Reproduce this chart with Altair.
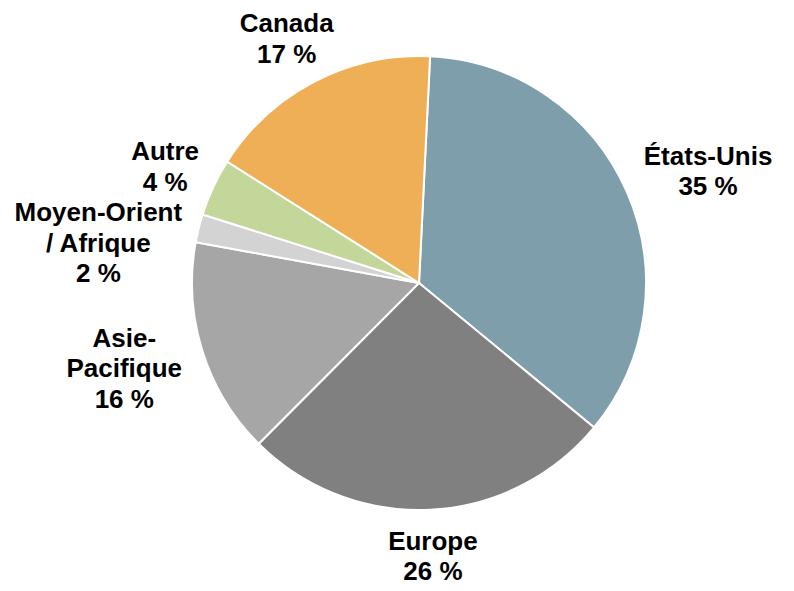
import altair as alt
import pandas as pd
import math

categories = ["États-Unis", "Europe", "Asie-Pacifique", "Moyen-Orient / Afrique", "Autre", "Canada"]
values = [35.2, 26.5, 15.4, 2.0, 4.1, 16.8]
labels = ["États-Unis\n35 %", "Europe\n26 %", "Asie-\nPacifique\n16 %",
          "Moyen-Orient\n/ Afrique\n2 %", "Autre\n4 %", "Canada\n17 %"]
colors = ["#7F9EAB", "#808080", "#A6A6A6", "#D3D3D3", "#C4D79B", "#EFAF57"]

df = pd.DataFrame({
    "cat": categories,
    "value": values,
    "label": labels,
    "idx": list(range(len(categories))),
    "nlines": [len(l.split("\n")) for l in labels],
    "maxchars": [max(len(s) for s in l.split("\n")) for l in labels],
})

FS = 26
LH = 30.5
R = 244
start = 2.8 * math.pi / 180
theta_scale = alt.Scale(range=[start, start + 2 * math.pi])

pie = alt.Chart(df).mark_arc(outerRadius=227, stroke="white", strokeWidth=2).encode(
    theta=alt.Theta("value:Q", stack=True, scale=theta_scale),
    order=alt.Order("idx:Q"),
    color=alt.Color("cat:N", scale=alt.Scale(domain=categories, range=colors), legend=None),
)

text = (
    alt.Chart(df)
    .transform_joinaggregate(total="sum(value)")
    .transform_window(cum="sum(value)", sort=[alt.SortField("idx")], frame=[None, 0])
    .transform_calculate(mid=f"{start} + 2*PI*(datum.cum - datum.value/2)/datum.total")
    .transform_calculate(hw=f"datum.maxchars*7.2", hh=f"datum.nlines*{LH/2}")
    .transform_calculate(
        px=f"({R} + datum.hw)*sin(datum.mid)",
        yd=f"-({R} + datum.hh)*cos(datum.mid)",
        side="sin(datum.mid) < 0 ? 'L' : 'R'",
        step="2*datum.hh",
    )
    .transform_window(cumstep="sum(step)", groupby=["side"], sort=[alt.SortField("yd")], frame=[None, 0])
    .transform_calculate(o="datum.cumstep - datum.hh")
    .transform_calculate(d="datum.yd - datum.o")
    .transform_window(md="max(d)", groupby=["side"], sort=[alt.SortField("yd")], frame=[None, 0])
    .transform_calculate(py=f"datum.o + datum.md - (datum.nlines - 1)*{LH/2}")
    .mark_text(font="Liberation Sans", fontWeight="bold", fontSize=FS, lineHeight=LH,
               lineBreak="\n", align="center", baseline="middle", color="black")
    .encode(
        x=alt.X("px:Q", scale=alt.Scale(domain=[-275, 275], nice=False, zero=False), axis=None),
        y=alt.Y("py:Q", scale=alt.Scale(domain=[-275, 275], nice=False, zero=False, reverse=True), axis=None),
        text="label:N",
    )
)

chart = (pie + text).properties(
    width=550, height=550,
    padding={"left": 136, "top": 0, "right": 92, "bottom": 33},
    autosize=alt.AutoSizeParams(type="none"),
).configure_view(stroke=None)

chart.save("out.html", embed_options={"renderer": "svg", "actions": False})
